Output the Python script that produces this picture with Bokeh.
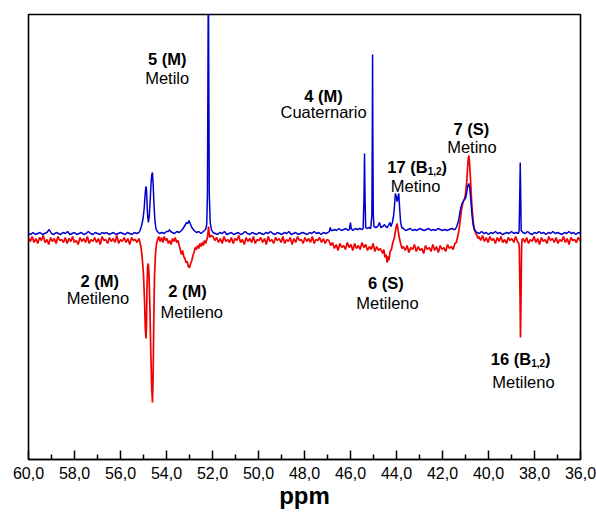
from bokeh.plotting import figure
from bokeh.models import Range1d, FixedTicker, Label
from bokeh.embed import file_html
from bokeh.resources import INLINE

# ---------------- data ----------------
# Baseline noise stretches: (first ppm, ppm spacing, intensities)
red_noise = [
    (60.0, 0.08, [-3, -7, -2, -8, -4, -9, -3, -6, -1, -8, -5, -10, -3, -7, -4, -9, -2, -6, -5, -8,
                  -3, -9, -4, -7, -2, -8, -6, -10, -3, -7, -4, -8, -2, -9, -5, -7, -3, -8, -4, -10,
                  -2, -6, -5, -9, -3, -7, -4, -8, -1, -9, -5, -7, -3, -8, -4, -10, -3, -6, -5, -8, -4]),
    (51.98, 0.08, [-2, -6, -3, -8, -4, -9, -2, -7, -5, -8, -3, -9, -4, -6, -1, -8, -5, -10, -3, -7,
                   -4, -8, -2, -9, -5, -6, -3, -8, -4, -10, -2, -7, -5, -9, -3, -6, -4, -8, -2, -9,
                   -5, -7, -3, -10, -4, -8, -2, -6, -5, -9, -3, -7, -4, -8, -2, -9, -5, -6, -3, -8,
                   -4, -9, -5]),
    (46.94, 0.08, [-6, -11, -8, -14, -10, -16, -9, -13, -11, -15, -8, -13, -10, -16, -9, -14, -11, -15,
                   -8, -13, -10, -16, -12, -15, -9, -17, -12, -16, -14]),
    (43.70, 0.08, [-12, -16, -11, -18, -13, -15, -10, -17, -12, -16, -14, -19, -11, -15, -13, -17, -10,
                   -16, -12, -18, -11, -15, -13, -17, -10, -14, -12, -15, -9]),
    (40.42, 0.08, [-2, -6, -1, -7, -3, -8, -2, -6, -4, -9, -3, -7, -2, -8, -5, -9, -3, -6, -4, -8, -2, -7]),
    (38.50, 0.08, [-4, -8, -3, -9, -5, -7, -2, -8, -4, -10, -3, -7, -5, -9, -2, -6, -4, -8, -3, -9,
                   -5, -7, -2, -8, -4, -10, -3, -6, -5, -8, -3, -6]),
]
# Signals of the red (DEPT) spectrum: (ppm, intensity)
red_peaks = [
    (55.15, -8), (55.1, -14), (55.05, -25), (55.0, -40), (54.95, -70), (54.92, -95), (54.89, -104),
    (54.87, -90), (54.85, -55), (54.82, -32), (54.79, -29), (54.76, -40), (54.72, -75), (54.68, -120),
    (54.64, -155), (54.61, -168), (54.58, -140), (54.55, -80), (54.52, -40), (54.48, -20), (54.44, -10),
    (54.4, -6), (54.34, -2), (54.28, -7), (54.22, -3), (54.16, -8), (54.1, -2), (54.04, -6), (53.98, -4),
    (53.92, -9), (53.86, -6), (53.8, -10), (53.74, -4), (53.68, -7), (53.62, -3), (53.56, -8), (53.5, -6),
    (53.45, -11), (53.4, -15), (53.35, -20), (53.3, -16), (53.25, -22), (53.2, -24), (53.15, -28),
    (53.1, -27), (53.05, -32), (53.0, -33), (52.95, -29), (52.9, -26), (52.85, -21), (52.8, -18),
    (52.75, -13), (52.7, -15), (52.65, -11), (52.6, -14), (52.55, -9), (52.5, -12), (52.45, -8),
    (52.4, -11), (52.35, -6), (52.3, -9), (52.25, -5), (52.22, -3), (52.19, 3), (52.17, 8), (52.15, 2),
    (52.12, -3), (52.06, -1),
    (44.6, -19), (44.55, -15), (44.5, -23), (44.45, -20), (44.41, -28), (44.37, -22), (44.33, -26),
    (44.28, -17), (44.22, -15), (44.16, -8), (44.1, -4), (44.05, 3), (44.0, 9), (43.97, 11), (43.93, 4),
    (43.88, -3), (43.82, -9), (43.76, -14),
    (41.4, -8), (41.36, -4), (41.3, 2), (41.25, 10), (41.2, 20), (41.15, 28), (41.1, 33), (41.05, 35),
    (41.0, 40), (40.95, 52), (40.91, 66), (40.88, 76), (40.85, 79), (40.82, 70), (40.78, 54),
    (40.74, 36), (40.7, 22), (40.65, 10), (40.6, 4), (40.55, 1), (40.5, -1), (40.46, -4),
    (38.68, -9), (38.66, -14), (38.63, -60), (38.61, -103), (38.59, -70), (38.56, -12), (38.54, -5),
]

blue_noise = [
    (60.0, 0.1, [1, 0, 2, 0, 1, 2, 0, 1, 2, 5, 1, 0, 2, 1, 0, 2, 1, 3, 0, 1, 2, 0, 1, 2, 0, 1, 3, 1, 0,
                 2, 1, 0, 2, 1, 2, 0, 1, 2, 0, 1, 2, 1, 0, 2, 1, 0, 2, 1, 2]),
    (51.98, 0.1, [2, 1, 0, 2, 1, 3, 0, 1, 2, 0, 1, 2, 0, 1, 3, 1, 0, 2, 1, 0, 2, 1, 0, 2, 1, 3, 1, 0, 2,
                  1, 0, 2, 1, 3, 0, 1, 2, 0, 1, 2, 1, 0, 2, 1, 3, 1, 2, 0, 2, 1]),
    (40.50, 0.1, [2, 1, 3, 1, 2, 0, 2, 1, 3, 1, 2, 0, 1, 2, 1, 3, 1, 2, 1]),
    (38.50, 0.1, [2, 1, 3, 1, 0, 2, 1, 3, 1, 2, 0, 2, 1, 3, 1, 2, 1, 0, 2, 1, 3, 1, 2, 0, 2, 1]),
]
blue_peaks = [
    (55.15, 4), (55.08, 9), (55.02, 16), (54.97, 26), (54.93, 40), (54.9, 47), (54.88, 48), (54.86, 40),
    (54.83, 22), (54.79, 12), (54.75, 18), (54.71, 34), (54.67, 52), (54.64, 60), (54.61, 62),
    (54.58, 50), (54.54, 28), (54.5, 13), (54.46, 6), (54.4, 3), (54.3, 1), (54.2, 2), (54.1, 1),
    (54.0, 3), (53.92, 3), (53.87, 5), (53.82, 3), (53.75, 2), (53.65, 1), (53.55, 3), (53.45, 2),
    (53.35, 4), (53.28, 6), (53.2, 9), (53.12, 12), (53.07, 11), (53.02, 14), (52.97, 11), (52.9, 7),
    (52.8, 4), (52.7, 2), (52.6, 3), (52.5, 1), (52.4, 3), (52.3, 5), (52.25, 10), (52.22, 40),
    (52.2, 150), (52.18, 270), (52.16, 150), (52.14, 40), (52.1, 12), (52.05, 5),
    (46.98, 2), (46.92, 3), (46.88, 7), (46.84, 4), (46.78, 4), (46.7, 5), (46.6, 4), (46.5, 6),
    (46.4, 4), (46.3, 5), (46.2, 6), (46.1, 4), (46.05, 5), (46.02, 9), (46.0, 12), (45.97, 6),
    (45.9, 4), (45.8, 6), (45.7, 5), (45.6, 6), (45.5, 5), (45.45, 6), (45.41, 40), (45.39, 81),
    (45.37, 40), (45.34, 7), (45.28, 6), (45.2, 7), (45.12, 6), (45.07, 20), (45.05, 110), (45.04, 180),
    (45.03, 110), (45.01, 20), (44.98, 8), (44.9, 7), (44.82, 8), (44.74, 12), (44.68, 7), (44.6, 8),
    (44.52, 10), (44.47, 8), (44.4, 7), (44.33, 10), (44.29, 12), (44.24, 8), (44.18, 12), (44.13, 18),
    (44.09, 28), (44.05, 41), (44.01, 38), (43.97, 33), (43.93, 38), (43.9, 41), (43.86, 25),
    (43.82, 12), (43.77, 7), (43.7, 6), (43.6, 4), (43.5, 5), (43.4, 6), (43.3, 4), (43.2, 5),
    (43.1, 4), (43.0, 6), (42.9, 5), (42.8, 4), (42.7, 5), (42.6, 6), (42.5, 4), (42.4, 5), (42.3, 4),
    (42.2, 6), (42.1, 5), (42.0, 4), (41.9, 5), (41.8, 4), (41.7, 5), (41.6, 6), (41.5, 5), (41.45, 5),
    (41.38, 8), (41.3, 14), (41.25, 21), (41.2, 27), (41.15, 31), (41.1, 33), (41.05, 35), (41.0, 36),
    (40.95, 42), (40.9, 49), (40.86, 51), (40.82, 47), (40.77, 35), (40.72, 20), (40.67, 10),
    (40.62, 5), (40.55, 3),
    (38.67, 4), (38.64, 40), (38.62, 72), (38.6, 40), (38.58, 4),
]

major_ticks = [60, 58, 56, 54, 52, 50, 48, 46, 44, 42, 40, 38, 36]
minor_ticks = [59, 57, 55, 53, 51, 49, 47, 45, 43, 41, 39, 37]
tick_labels = ["60,0", "58,0", "56,0", "54,0", "52,0", "50,0", "48,0", "46,0",
               "44,0", "42,0", "40,0", "38,0", "36,0"]

# annotation texts and anchors (ppm, intensity)
bold_labels = [("5 (M)", 53.97, 175.7), ("4 (M)", 47.17, 139.0), ("7 (S)", 40.74, 105.7),
               ("2 (M)", 56.90, -46.0), ("2 (M)", 53.09, -56.0), ("6 (S)", 44.46, -48.7)]
plain_labels = [("Metilo", 53.97, 157.0), ("Cuaternario", 47.17, 123.0), ("Metino", 40.72, 87.3),
                ("Metino", 43.17, 49.0), ("Metileno", 56.98, -63.7), ("Metileno", 52.90, -77.7),
                ("Metileno", 44.39, -68.7), ("Metileno", 38.48, -147.0)]
sub_labels = [("17 (B", "1,2", ")", 43.10, 67.3), ("16 (B", "1,2", ")", 38.60, -124.3)]


def build(noise, peaks):
    pts = list(peaks)
    for start, step, vals in noise:
        pts += [(round(start - i * step, 4), v) for i, v in enumerate(vals)]
    pts.sort(key=lambda t: -t[0])
    return [a for a, b in pts], [b for a, b in pts]


FONT = "Liberation Sans"
LBL = "16.5px"

p = figure(width=596, height=516, output_backend="svg", toolbar_location=None,
           x_range=Range1d(60, 36), y_range=Range1d(-225, 220),
           min_border_left=28, min_border_right=16, min_border_top=14, min_border_bottom=57)
p.background_fill_color = "white"
p.border_fill_color = "white"
p.outline_line_color = "black"
p.outline_line_width = 1.6
p.xgrid.visible = False
p.ygrid.visible = False
p.yaxis.visible = False

ax = p.xaxis[0]
ax.ticker = FixedTicker(ticks=major_ticks, minor_ticks=minor_ticks)
ax.major_label_overrides = {float(t): s for t, s in zip(major_ticks, tick_labels)}
ax.major_tick_in = 9
ax.major_tick_out = 0
ax.minor_tick_in = 5
ax.minor_tick_out = 0
ax.major_tick_line_width = 1.5
ax.minor_tick_line_width = 1.5
ax.axis_line_width = 1.6
ax.major_label_text_font = FONT
ax.major_label_text_font_size = "16px"
ax.major_label_text_color = "black"
ax.major_label_standoff = 7
ax.axis_label = "ppm"
ax.axis_label_text_font = FONT
ax.axis_label_text_font_size = "24px"
ax.axis_label_text_font_style = "bold"
ax.axis_label_text_color = "black"
ax.axis_label_standoff = 0

rx, ry = build(red_noise, red_peaks)
bx, by = build(blue_noise, blue_peaks)
p.line(rx, ry, line_color="#F00000", line_width=1.7)
p.line(bx, by, line_color="#0000CC", line_width=1.5)

for txt, x, y in bold_labels:
    p.add_layout(Label(x=x, y=y, text=txt, text_align="center", text_baseline="alphabetic",
                       text_font=FONT, text_font_size=LBL, text_font_style="bold",
                       text_color="black"))
for txt, x, y in plain_labels:
    p.add_layout(Label(x=x, y=y, text=txt, text_align="center", text_baseline="alphabetic",
                       text_font=FONT, text_font_size=LBL, text_color="black"))
for main, sub, close, x, y in sub_labels:
    w_main, w_sub, w_close = 40.3, 13.9, 5.5
    start = -(w_main + w_sub + w_close) / 2
    p.add_layout(Label(x=x, y=y, x_offset=start, text=main, text_align="left",
                       text_baseline="alphabetic", text_font=FONT, text_font_size=LBL,
                       text_font_style="bold", text_color="black"))
    p.add_layout(Label(x=x, y=y, x_offset=start + w_main, y_offset=-4, text=sub, text_align="left",
                       text_baseline="alphabetic", text_font=FONT, text_font_size="10px",
                       text_font_style="bold", text_color="black"))
    p.add_layout(Label(x=x, y=y, x_offset=start + w_main + w_sub, text=close, text_align="left",
                       text_baseline="alphabetic", text_font=FONT, text_font_size=LBL,
                       text_font_style="bold", text_color="black"))

open("out.html", "w").write(file_html(p, INLINE))
